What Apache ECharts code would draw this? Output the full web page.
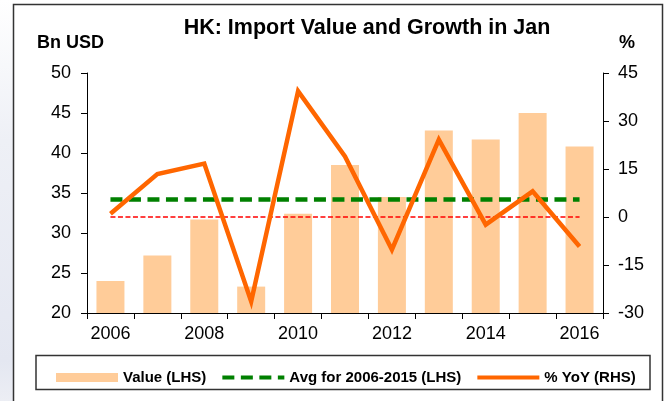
<!DOCTYPE html>
<html>
<head>
<meta charset="utf-8">
<script src="https://cdn.jsdelivr.net/npm/echarts@6/dist/echarts.min.js"></script>
<style>
  html, body { margin: 0; padding: 0; background: #fff; }
  #main { width: 669px; height: 401px; }
</style>
</head>
<body>
<div id="main"></div>
<script>
var years = ["2006", "2007", "2008", "2009", "2010", "2011", "2012", "2013", "2014", "2015", "2016"];
var importValue = [24.0, 27.2, 31.7, 23.3, 32.4, 38.5, 34.5, 42.8, 41.7, 45.0, 40.8];
var avgValue = [34.2, 34.2, 34.2, 34.2, 34.2, 34.2, 34.2, 34.2, 34.2, 34.2, 34.2];
var yoy = [1.0, 13.4, 16.7, -26.4, 39.3, 18.9, -10.2, 24.2, -2.4, 8.0, -9.2];
var zeroLine = [0, 0, 0, 0, 0, 0, 0, 0, 0, 0, 0];

var font = "Liberation Sans, Arial, sans-serif";

var chartDom = document.getElementById("main");
var myChart = echarts.init(chartDom);
var option = {
  animation: false,
  backgroundColor: "#fff",
  textStyle: { fontFamily: font },
  grid: { left: 87, right: 66, top: 73, bottom: 88 },
  graphic: [
    {
      type: "rect", silent: true, z: -10,
      shape: { x: 0, y: 0, width: 13, height: 401 },
      style: {
        fill: new echarts.graphic.LinearGradient(0, 0, 0, 1, [
          { offset: 0, color: "#ffffff" },
          { offset: 0.35, color: "#eef0f6" },
          { offset: 0.9, color: "#e4e7f1" },
          { offset: 1, color: "#eceef4" }
        ])
      }
    },
    {
      type: "rect", silent: true, z: 1,
      shape: { x: 13.5, y: 4.5, width: 649, height: 420 },
      style: { fill: null, stroke: "#333", lineWidth: 1.5 }
    },
    {
      type: "text", x: 367, y: 17, silent: true,
      style: { text: "HK: Import Value and Growth in Jan", font: "bold 21.5px " + font, fill: "#000", textAlign: "center", textVerticalAlign: "top" }
    },
    {
      type: "text", x: 37, y: 34, silent: true,
      style: { text: "Bn USD", font: "bold 18px " + font, fill: "#000", textVerticalAlign: "top" }
    },
    {
      type: "text", x: 619, y: 34, silent: true,
      style: { text: "%", font: "bold 18px " + font, fill: "#000", textVerticalAlign: "top" }
    },
    {
      type: "rect", silent: true, z: 1,
      shape: { x: 36, y: 355.5, width: 614, height: 34 },
      style: { fill: null, stroke: "#333", lineWidth: 1.5 }
    }
  ],
  legend: {
    left: 51, top: 365,
    itemWidth: 62, itemHeight: 9, itemGap: 14,
    textStyle: { fontFamily: font, fontSize: 15, fontWeight: "bold", color: "#000" },
    data: [
      { name: "Value (LHS)", icon: "rect" },
      { name: "Avg for 2006-2015 (LHS)", lineStyle: { width: 4 }, itemStyle: { opacity: 0 } },
      { name: "% YoY (RHS)", lineStyle: { width: 4 }, itemStyle: { opacity: 0 } }
    ]
  },
  xAxis: {
    type: "category",
    data: years,
    boundaryGap: true,
    axisLine: { onZero: false, lineStyle: { color: "#000", width: 1 } },
    axisTick: { show: true, interval: 0, length: 6, lineStyle: { color: "#000" } },
    axisLabel: { interval: 1, margin: 12, fontSize: 18, color: "#000", fontFamily: font },
    splitLine: { show: false }
  },
  yAxis: [
    {
      type: "value", min: 20, max: 50, interval: 5,
      axisLine: { show: true, lineStyle: { color: "#000", width: 1 } },
      axisTick: { show: true, length: 6, lineStyle: { color: "#000" } },
      axisLabel: { margin: 16, fontSize: 18, color: "#000", fontFamily: font },
      splitLine: { show: false }
    },
    {
      type: "value", min: -30, max: 45, interval: 15,
      axisLine: { show: true, lineStyle: { color: "#000", width: 1 } },
      axisTick: { show: true, length: 6, lineStyle: { color: "#000" } },
      axisLabel: { margin: 15, fontSize: 18, color: "#000", fontFamily: font },
      splitLine: { show: false }
    }
  ],
  series: [
    {
      name: "Value (LHS)",
      type: "bar",
      data: importValue,
      barWidth: 28,
      itemStyle: { color: "#FFCC99" },
      z: 1
    },
    {
      name: "Avg for 2006-2015 (LHS)",
      type: "line",
      data: avgValue,
      symbol: "none",
      lineStyle: { color: "#008000", width: 4.5, type: [12, 6.5] },
      itemStyle: { color: "#008000" },
      z: 3
    },
    {
      name: "zero",
      type: "line",
      yAxisIndex: 1,
      data: zeroLine,
      symbol: "none",
      lineStyle: { color: "#FF0000", width: 1.5, type: [5, 2.5] },
      z: 2
    },
    {
      name: "% YoY (RHS)",
      type: "line",
      yAxisIndex: 1,
      data: yoy,
      symbol: "none",
      lineStyle: { color: "#FF6600", width: 4.5, join: "miter" },
      itemStyle: { color: "#FF6600" },
      z: 4
    }
  ]
};
option && myChart.setOption(option);
</script>
</body>
</html>
